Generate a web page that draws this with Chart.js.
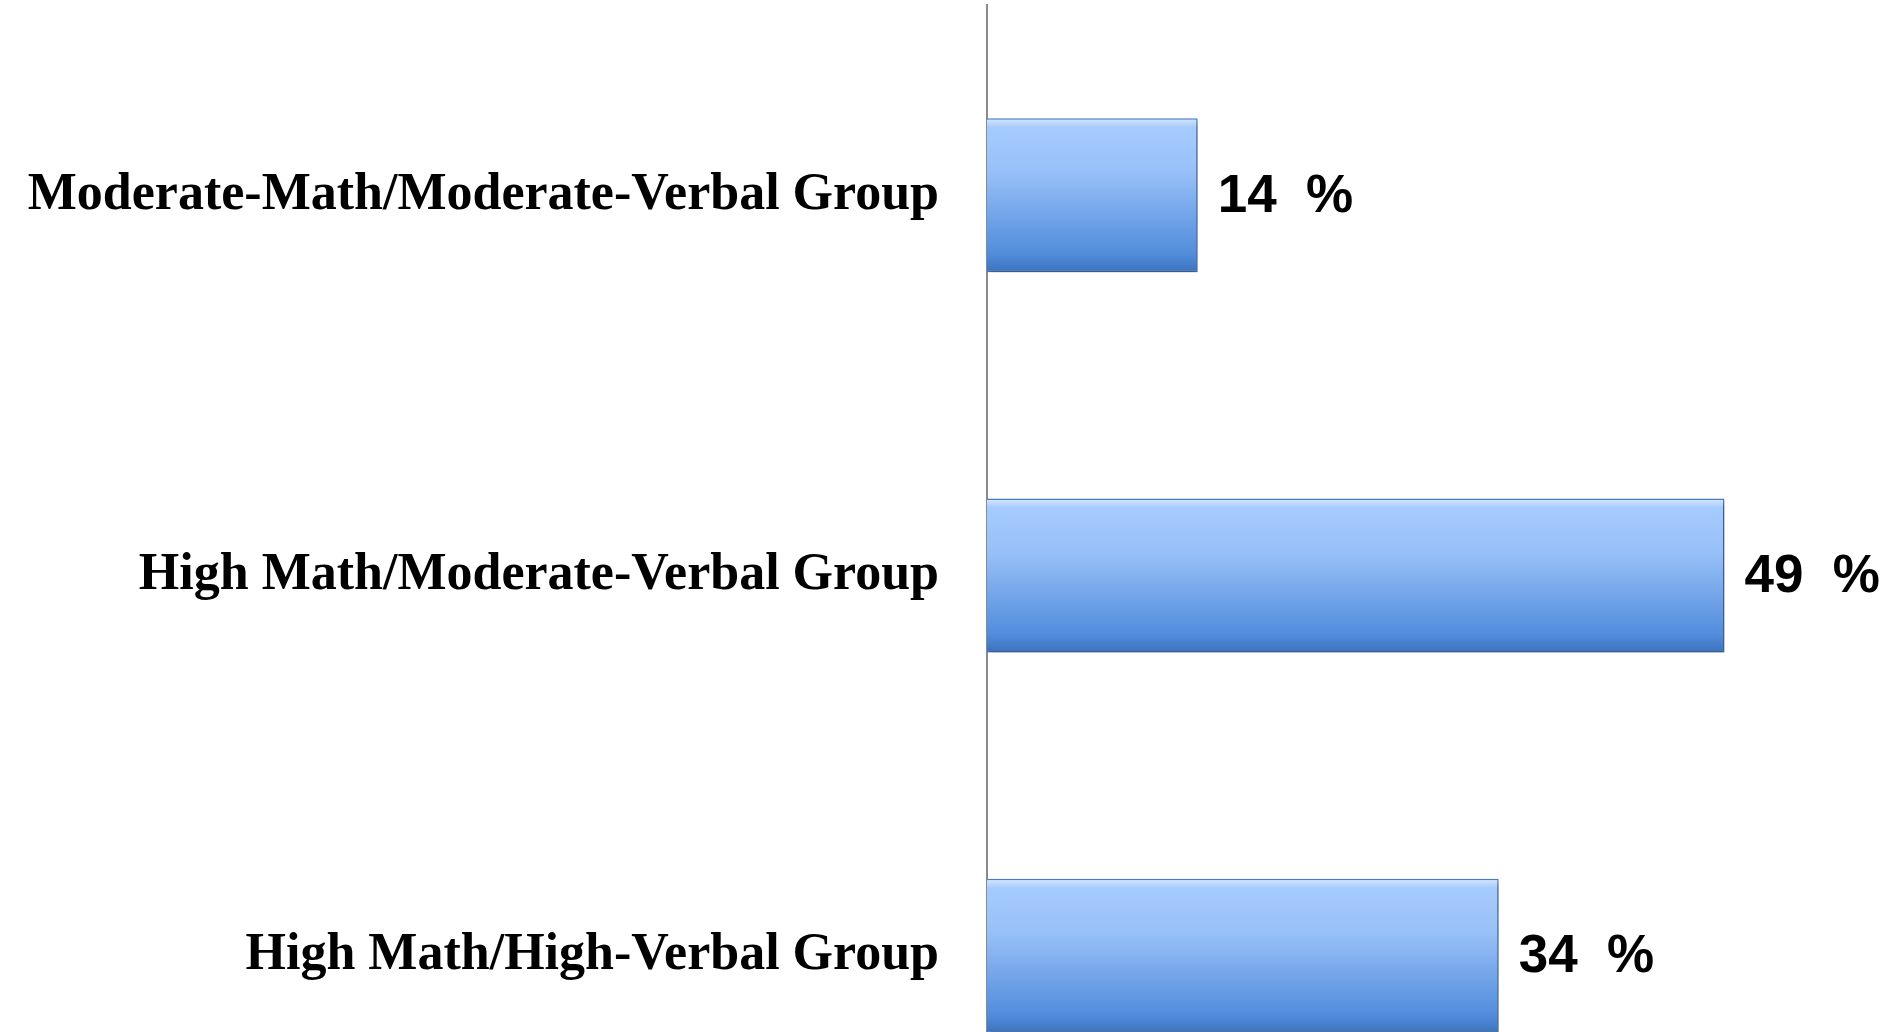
<!DOCTYPE html>
<html>
<head>
<meta charset="utf-8">
<script src="https://cdn.jsdelivr.net/npm/chart.js@4.4.1/dist/chart.umd.min.js"></script>
<style>
  html, body { margin: 0; padding: 0; background: #fff; overflow: hidden; }
  #frame { width: 1890px; height: 1032px; overflow: hidden; }
  #box { width: 1890px; height: 1146px; position: relative; }
</style>
</head>
<body>
<div id="frame"><div id="box"><canvas id="myChart"></canvas></div></div>
<script>
const groups = [
  'Moderate-Math/Moderate-Verbal Group',
  'High Math/Moderate-Verbal Group',
  'High Math/High-Verbal Group'
]
const shares = [14, 49, 34]
const shareLabels = ['14  %', '49  %', '34  %']

const ctx = document.getElementById('myChart')

// vertical gradient for each bar, from its own top to bottom
function barFill(c) {
  const chart = c.chart
  const area = chart.chartArea
  const y = chart.scales.y
  if (!area || !y || c.dataIndex === undefined) return '#7aa9ea'
  const mid = y.getPixelForValue(c.dataIndex)
  const half = (area.bottom - area.top) / groups.length * 0.405 / 2
  if (!isFinite(mid) || !isFinite(half)) return '#7aa9ea'
  const g = chart.ctx.createLinearGradient(0, mid - half, 0, mid + half)
  g.addColorStop(0, '#d6e8ff')
  g.addColorStop(0.06, '#a6cbfe')
  g.addColorStop(0.35, '#98c0f8')
  g.addColorStop(0.88, '#528ddc')
  g.addColorStop(1, '#3c72bd')
  return g
}

const barShadow = {
  id: 'barShadow',
  beforeDatasetDraw(chart) {
    const c = chart.ctx
    c.save()
    c.shadowColor = 'rgba(0,0,0,0.35)'
    c.shadowBlur = 5
    c.shadowOffsetX = 2
    c.shadowOffsetY = 3
  },
  afterDatasetDraw(chart) {
    chart.ctx.restore()
  }
}

const valueLabels = {
  id: 'valueLabels',
  afterDatasetsDraw(chart) {
    const c = chart.ctx
    const meta = chart.getDatasetMeta(0)
    c.save()
    c.font = 'bold 53px "Liberation Sans", Arial, sans-serif'
    c.fillStyle = '#000'
    c.textAlign = 'left'
    c.textBaseline = 'middle'
    meta.data.forEach(function (bar, i) {
      c.fillText(shareLabels[i], bar.x + 20, bar.y + 2)
    })
    c.restore()
  }
}

const data = {
  labels: groups,
  datasets: [{
    data: shares,
    backgroundColor: barFill,
    borderColor: '#4a7fc6',
    borderWidth: 1.5,
    borderSkipped: 'left',
    categoryPercentage: 1,
    barPercentage: 0.405
  }]
}

const config = {
  type: 'bar',
  data: data,
  plugins: [barShadow, valueLabels],
  options: {
    indexAxis: 'y',
    responsive: true,
    maintainAspectRatio: false,
    animation: false,
    layout: { padding: { top: 5, right: 0, bottom: 0, left: 0 } },
    plugins: {
      legend: { display: false },
      tooltip: { enabled: false }
    },
    scales: {
      x: {
        display: false,
        min: 0,
        max: 60
      },
      y: {
        grid: { display: false, drawTicks: false, tickLength: 0 },
        border: { display: true, color: '#8a8a8a', width: 2 },
        ticks: {
          color: '#000',
          padding: 48,
          font: { family: '"Liberation Serif", "Times New Roman", serif', size: 52, weight: 'bold' }
        },
        afterFit: function (scale) {
          scale.width = 987
          scale.paddingTop = 0
          scale.paddingBottom = 0
        }
      }
    }
  }
}

const myChart = new Chart(ctx, config)
</script>
</body>
</html>
